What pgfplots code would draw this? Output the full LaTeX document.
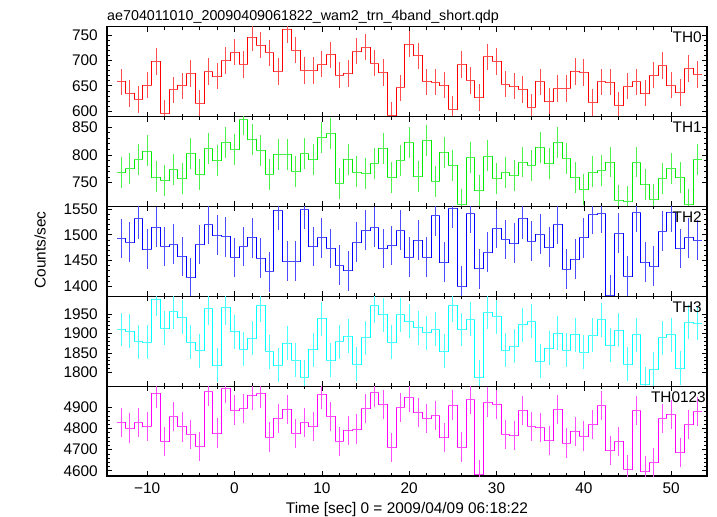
\documentclass[border=0pt]{standalone}
\usepackage{fontspec}
\setmainfont{Liberation Sans}
\usepackage{pgfplots}
\pgfplotsset{compat=1.18}
\usepackage{pgfplotstable}
\definecolor{qred}{RGB}{255,0,0}
\definecolor{qgreen}{RGB}{0,235,0}
\definecolor{qblue}{RGB}{0,0,255}
\definecolor{qcyan}{RGB}{0,255,255}
\definecolor{qmag}{RGB}{255,0,255}

\pgfplotstableread{
x y
-13 658
-12 635
-11 623
-10 651
-9 698
-8 596
-7 642
-6 650
-5 674
-4 616
-3 678
-2 669
-1 700
0 716
1 692
2 745
3 730
4 715
5 678
6 761
7 720
8 680
9 680
10 693
11 711
12 671
13 674
14 718
15 726
16 695
17 676
18 592
19 646
20 732
21 709
22 658
23 657
24 651
25 604
26 692
27 660
28 627
29 707
30 698
31 653
32 649
33 643
34 608
35 658
36 620
37 645
38 645
39 678
40 676
41 617
42 658
43 657
44 611
45 649
46 658
47 636
48 671
49 690
50 651
51 637
52 684
53 672
}\thA

\pgfplotstableread{
x y
-13 768
-12 776
-11 792
-10 807
-9 760
-8 754
-7 774
-6 757
-5 802
-4 764
-3 811
-2 790
-1 822
0 809
1 864
2 827
3 808
4 764
5 801
6 800
7 770
8 803
9 792
10 832
11 839
12 748
13 792
14 769
15 767
16 784
17 812
18 759
19 790
20 823
21 761
22 826
23 752
24 804
25 780
26 710
27 796
28 735
29 798
30 758
31 768
32 762
33 787
34 781
35 814
36 784
37 823
38 794
39 759
40 738
41 769
42 771
43 787
44 717
45 715
46 787
47 746
48 720
49 758
50 775
51 759
52 711
53 792
}\thB

\pgfplotstableread{
x y
-13 1493
-12 1486
-11 1531
-10 1472
-9 1515
-8 1477
-7 1482
-6 1458
-5 1417
-4 1481
-3 1520
-2 1499
-1 1496
0 1456
1 1477
2 1494
3 1455
4 1428
5 1548
6 1449
7 1449
8 1550
9 1477
10 1494
11 1473
12 1441
13 1430
14 1486
15 1509
16 1515
17 1473
18 1479
19 1509
20 1457
21 1490
22 1457
23 1537
24 1447
25 1551
26 1400
27 1542
28 1434
29 1466
30 1512
31 1491
32 1484
33 1531
34 1488
35 1501
36 1476
37 1520
38 1433
39 1453
40 1494
41 1539
42 1542
43 1383
44 1503
45 1420
46 1544
47 1447
48 1439
49 1507
50 1544
51 1473
52 1494
53 1490
}\thC

\pgfplotstableread{
x y
-13 1910
-12 1906
-11 1879
-10 1877
-9 1987
-8 1913
-7 1956
-6 1941
-5 1877
-4 1856
-3 1964
-2 1818
-1 1966
0 1904
1 1859
2 1887
3 1972
4 1853
5 1818
6 1875
7 1831
8 1788
9 1858
10 1938
11 1831
12 1879
13 1893
14 1821
15 1889
16 1971
17 1948
18 1877
19 1948
20 1931
21 1915
22 1902
23 1911
24 1855
25 1973
26 1910
27 1936
28 1788
29 1954
30 1943
31 1857
32 1868
33 1922
34 1932
35 1829
36 1862
37 1900
38 1857
39 1897
40 1852
41 1896
42 1935
43 1870
44 1908
45 1821
46 1897
47 1770
48 1808
49 1889
50 1897
51 1811
52 1928
53 1926
}\thD

\pgfplotstableread{
x y
-13 4830
-12 4803
-11 4828
-10 4809
-9 4966
-8 4740
-7 4857
-6 4808
-5 4771
-4 4715
-3 4975
-2 4779
-1 4989
0 4888
1 4895
2 4956
3 4967
4 4760
5 4847
6 4890
7 4775
8 4828
9 4809
10 4961
11 4858
12 4740
13 4790
14 4798
15 4895
16 4970
17 4914
18 4710
19 4899
20 4949
21 4876
22 4847
23 4863
24 4757
25 4912
26 4713
27 4939
28 4582
29 4926
30 4915
31 4771
32 4768
33 4885
34 4811
35 4805
36 4743
37 4890
38 4732
39 4787
40 4764
41 4820
42 4910
43 4697
44 4740
45 4606
46 4887
47 4599
48 4640
49 4847
50 4868
51 4685
52 4820
53 4880
}\thE

\pgfplotsset{
  panel/.style={
    width=600bp, height=89.86bp, scale only axis,
    anchor=north west,
    xmin=-14.6, xmax=54.1,
    xtick={-10,0,10,20,30,40,50},
    minor x tick num=4,
    xticklabels={},
    minor y tick num=4,
    tick align=inside,
    major tick length=5bp, minor tick length=3bp,
    tick style={black, line width=0.6bp},
    axis line style={black, line width=1.1bp},
    font=\fontsize{15.4bp}{18bp}\selectfont,
    /pgf/number format/assume math mode=true,
    yticklabel style={inner sep=0pt, xshift=-9bp},
    xticklabel style={inner sep=0pt, yshift=-6.5bp},
    scaled ticks=false,
  },
  hist/.style 2 args={color=#1, const plot mark mid, line width=0.75bp, mark=none,
    error bars/.cd, x dir=both, x fixed=0.5, y dir=both, y fixed=#2,
    error mark=none, error bar style={solid, color=#1!70, line width=0.75bp}},
}

\begin{document}
\begin{tikzpicture}
\begin{axis}[panel, at={(0bp,0bp)}, ymin=589.4, ymax=766.3,
  ytick={600,650,700,750}, yticklabels={600,650,700,750}]
\addplot[hist={qred}{26}] table {\thA};
\node[anchor=north east, inner sep=0pt] at (rel axis cs:1,1) [xshift=-5bp, yshift=-5bp] {TH0};
\end{axis}

\begin{axis}[panel, at={(0bp,-89.86bp)}, ymin=706.7, ymax=869.1,
  ytick={750,800,850}, yticklabels={750,800,850}]
\addplot[hist={qgreen}{28}] table {\thB};
\node[anchor=north east, inner sep=0pt] at (rel axis cs:1,1) [xshift=-5bp, yshift=-5bp] {TH1};
\end{axis}

\begin{axis}[panel, at={(0bp,-179.72bp)}, ymin=1380.5, ymax=1555,
  ytick={1400,1450,1500,1550}, yticklabels={1400,1450,1500,1550}]
\addplot[hist={qblue}{38.5}] table {\thC};
\node[anchor=north east, inner sep=0pt] at (rel axis cs:1,1) [xshift=-5bp, yshift=-5bp] {TH2};
\end{axis}

\begin{axis}[panel, at={(0bp,-269.58bp)}, ymin=1765, ymax=1995,
  ytick={1800,1850,1900,1950}, yticklabels={1800,1850,1900,1950}]
\addplot[hist={qcyan}{43.5}] table {\thD};
\node[anchor=north east, inner sep=0pt] at (rel axis cs:1,1) [xshift=-5bp, yshift=-5bp] {TH3};
\end{axis}

\begin{axis}[panel, at={(0bp,-359.44bp)}, ymin=4575, ymax=5001,
  ytick={4600,4700,4800,4900}, yticklabels={4600,4700,4800,4900},
  xticklabels={−10,0,10,20,30,40,50}]
\addplot[hist={qmag}{69.5}] table {\thE};
\node[anchor=north east, inner sep=0pt] at (rel axis cs:1,1) [xshift=-1bp, yshift=-5bp] {TH0123};
\end{axis}

\node[anchor=base west, inner sep=0pt, font=\fontsize{14.3bp}{16bp}\selectfont] at (0bp,6.7bp)
  {ae704011010\_20090409061822\_wam2\_trn\_4band\_short.qdp};
\node[rotate=90, anchor=center, inner sep=0pt, font=\fontsize{15.4bp}{18bp}\selectfont] at (-67bp,-223.3bp) {Counts/sec};
\node[anchor=base, inner sep=0pt, font=\fontsize{15.4bp}{18bp}\selectfont] at (300bp,-486.8bp)
  {Time [sec] 0 = 2009/04/09 06:18:22};
\path[use as bounding box] (-107bp,26.7bp) rectangle (610bp,-489.3bp);
\end{tikzpicture}
\end{document}
